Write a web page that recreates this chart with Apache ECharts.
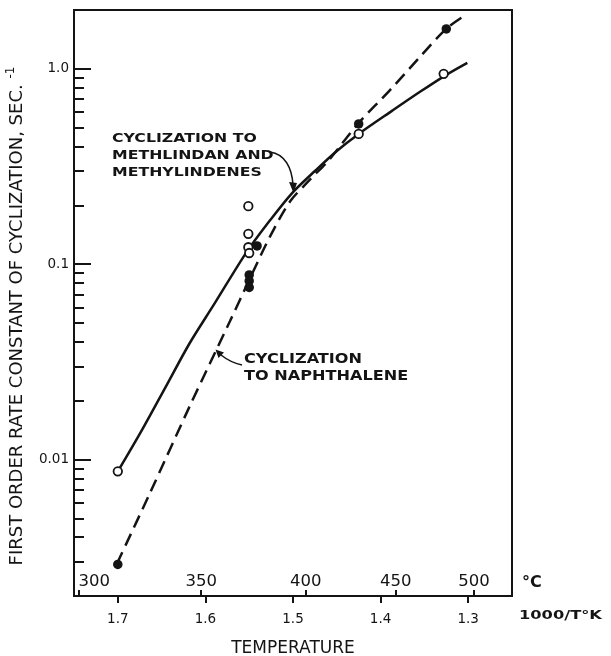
<!DOCTYPE html>
<html><head><meta charset="utf-8">
<script src="https://cdn.jsdelivr.net/npm/echarts@6/dist/echarts.min.js"></script>
<style>html,body{margin:0;padding:0;background:#fff}#c{width:611px;height:656px}</style>
</head><body><div id="c"></div>
<script>
// ---- tick labels ----
const xTickValues = [1.3, 1.4, 1.5, 1.6, 1.7];          // 1000/T (K)
const celsiusTicks = [300, 350, 400, 450, 500];          // deg C
const yMajorTicks = [0.01, 0.1, 1.0];
const yMinorTicks = [0.003,0.004,0.005,0.006,0.007,0.008,0.009,
                     0.02,0.03,0.04,0.05,0.06,0.07,0.08,0.09,
                     0.2,0.3,0.4,0.5,0.6,0.7,0.8,0.9];

// ---- measured points ----
// open circles: cyclization to methylindan and methylindenes
const openX = [1.700, 1.551, 1.551, 1.551, 1.550, 1.425, 1.328];
const openY = [0.0087, 0.198, 0.143, 0.122, 0.114, 0.464, 0.943];
// filled circles: cyclization to naphthalene
const filledX = [1.700, 1.541, 1.550, 1.550, 1.550, 1.425, 1.325];
const filledY = [0.0029, 0.124, 0.088, 0.082, 0.076, 0.522, 1.60];

// ---- hand-drawn fitted curves ----
const solidCurveX = [1.700, 1.672, 1.645, 1.618, 1.590, 1.553, 1.526, 1.501, 1.475, 1.450, 1.425, 1.387, 1.355, 1.325, 1.301];
const solidCurveY = [0.00868, 0.01425, 0.02367, 0.03935, 0.06235, 0.1152, 0.1681, 0.2312, 0.2998, 0.3797, 0.4642, 0.609, 0.7624, 0.9316, 1.0734];
const dashedCurveX = [1.701, 1.663, 1.618, 1.572, 1.549, 1.526, 1.503, 1.481, 1.458, 1.426, 1.389, 1.355, 1.325, 1.3025];
const dashedCurveY = [0.002928, 0.006773, 0.0187, 0.05101, 0.08477, 0.1392, 0.2103, 0.2697, 0.3455, 0.5224, 0.7805, 1.1522, 1.6035, 1.8923];

const zip = (xs, ys) => xs.map((x, i) => [x, ys[i]]);
const celsiusTickValues = celsiusTicks.map(c => 1000 / (c + 273.15));

const FONT = 'DejaVu Sans';
const INK = '#141414';

const chart = echarts.init(document.getElementById('c'), null, {renderer: 'canvas'});
chart.setOption({
  animation: false,
  backgroundColor: '#fff',
  grid: {left: 74, right: 99, top: 10, bottom: 60, show: true, borderColor: INK, borderWidth: 2,
         backgroundColor: 'transparent', outerBoundsMode: 'none', containLabel: false},
  xAxis: [
    {
      type: 'value', min: 1.25, max: 1.75, inverse: true, position: 'bottom',
      axisLine: {show: false}, splitLine: {show: false},
      axisTick: {customValues: xTickValues, inside: false, length: 7, lineStyle: {color: INK, width: 2}},
      axisLabel: {customValues: xTickValues, margin: 16, formatter: v => v.toFixed(1),
                  fontSize: 13.5, color: INK, fontFamily: FONT},
      name: 'TEMPERATURE', nameLocation: 'middle', nameGap: 44,
      nameTextStyle: {fontSize: 17, color: INK, fontFamily: FONT}
    },
    {
      type: 'value', min: 1.25, max: 1.75, inverse: true, position: 'bottom',
      axisLine: {show: false}, splitLine: {show: false},
      axisTick: {customValues: celsiusTickValues, inside: true, length: 6, lineStyle: {color: INK, width: 2}},
      axisLabel: {customValues: celsiusTickValues, inside: true, margin: 6,
                  formatter: v => String(Math.round(1000 / v - 273.15)),
                  alignMinLabel: 'left',
                  fontSize: 16.5, color: INK, fontFamily: FONT}
    }
  ],
  yAxis: [
    {
      type: 'log', logBase: 10, min: 0.002, max: 2, position: 'left',
      axisLine: {show: false}, splitLine: {show: false},
      axisTick: {customValues: yMajorTicks, inside: true, length: 17, lineStyle: {color: INK, width: 2}},
      axisLabel: {customValues: yMajorTicks, margin: 5, fontSize: 13.5, color: INK, fontFamily: FONT,
                  formatter: v => v >= 0.999 ? v.toFixed(1) : String(+Number(v).toPrecision(1))},
      name: 'FIRST ORDER RATE CONSTANT OF CYCLIZATION, SEC. {sup|-1}',
      nameLocation: 'middle', nameGap: 45, nameRotate: 90,
      nameTextStyle: {fontSize: 18, color: INK, fontFamily: FONT, padding: [0, 26, 0, 0],
                      rich: {sup: {fontSize: 12, color: INK, fontFamily: FONT, padding: [0, 0, 12, 0]}}}
    },
    {
      type: 'log', logBase: 10, min: 0.002, max: 2, position: 'left',
      axisLine: {show: false}, splitLine: {show: false},
      axisTick: {customValues: yMinorTicks, inside: true, length: 10, lineStyle: {color: INK, width: 2}},
      axisLabel: {show: false}
    }
  ],
  series: [
    {
      name: 'Cyclization to methylindan and methylindenes (curve)', type: 'line',
      xAxisIndex: 0, yAxisIndex: 0, data: zip(solidCurveX, solidCurveY),
      smooth: 0.3, showSymbol: false, silent: true, z: 2,
      lineStyle: {color: INK, width: 2.5}
    },
    {
      name: 'Cyclization to naphthalene (curve)', type: 'line',
      xAxisIndex: 0, yAxisIndex: 0, data: zip(dashedCurveX, dashedCurveY),
      smooth: 0.3, showSymbol: false, silent: true, z: 2,
      lineStyle: {color: INK, width: 2.5, type: [13, 7]}
    },
    {
      name: 'Methylindan and methylindenes', type: 'scatter',
      xAxisIndex: 0, yAxisIndex: 0, data: zip(openX, openY),
      symbol: 'circle', symbolSize: 8.5, z: 4,
      itemStyle: {color: '#fff', borderColor: INK, borderWidth: 1.8, opacity: 1}
    },
    {
      name: 'Naphthalene', type: 'scatter',
      xAxisIndex: 0, yAxisIndex: 0, data: zip(filledX, filledY),
      symbol: 'circle', symbolSize: 9.5, z: 4,
      itemStyle: {color: INK, opacity: 1}
    }
  ],
  graphic: [
    {type: 'text', x: 112, y: 130, scaleX: 1.21, z: 10,
     style: {text: 'CYCLIZATION TO\nMETHLINDAN AND\nMETHYLINDENES', fontSize: 13, lineHeight: 17, fontWeight: 'bold',
             fontFamily: FONT, fill: INK, verticalAlign: 'top', align: 'left'}},
    {type: 'bezierCurve', z: 10,
     shape: {x1: 270, y1: 152, cpx1: 285, cpy1: 154, cpx2: 292, cpy2: 168, x2: 293, y2: 185},
     style: {stroke: INK, lineWidth: 1.6, fill: null}},
    {type: 'polygon', z: 10, shape: {points: [[289, 182], [297, 183], [293.5, 193]]}, style: {fill: INK}},

    {type: 'text', x: 244, y: 351, scaleX: 1.15, z: 10,
     style: {text: 'CYCLIZATION\nTO NAPHTHALENE', fontSize: 14, lineHeight: 17, fontWeight: 'bold',
             fontFamily: FONT, fill: INK, verticalAlign: 'top', align: 'left'}},
    {type: 'bezierCurve', z: 10,
     shape: {x1: 242, y1: 365, cpx1: 233, cpy1: 363, cpx2: 226, cpy2: 359, x2: 221, y2: 355},
     style: {stroke: INK, lineWidth: 1.6, fill: null}},
    {type: 'polygon', z: 10, shape: {points: [[215.5, 349.5], [224, 352.5], [218.5, 358]]}, style: {fill: INK}},

    {type: 'text', x: 522, y: 575, z: 10,
     style: {text: '°C', fontSize: 16, fontWeight: 'bold', fontFamily: FONT, fill: INK, verticalAlign: 'top'}},
    {type: 'text', x: 519, y: 609, scaleX: 1.25, z: 10,
     style: {text: '1000/T°K', fontSize: 13, fontWeight: 'bold', fontFamily: FONT, fill: INK, verticalAlign: 'top'}}
  ]
});
</script>
</body></html>
